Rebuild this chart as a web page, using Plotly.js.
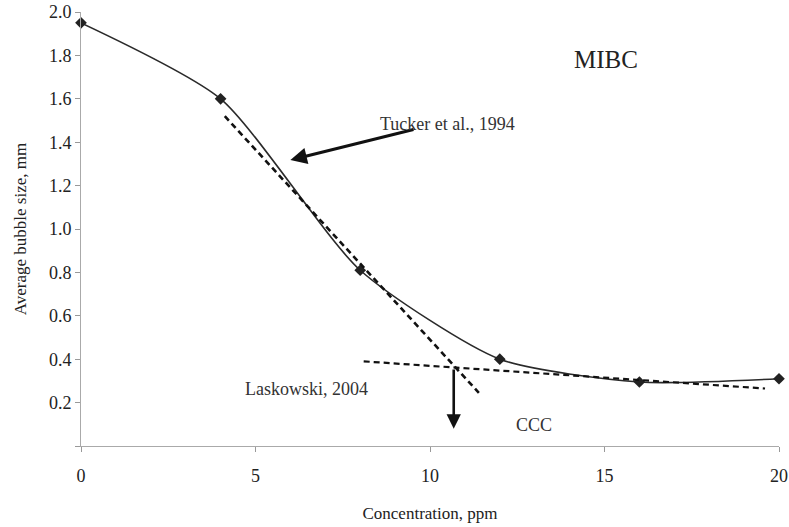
<!DOCTYPE html>
<html>
<head>
<meta charset="utf-8">
<script src="https://cdn.plot.ly/plotly-3.0.1.min.js"></script>
<style>html,body{margin:0;padding:0;background:#fff;}#chart{width:789px;height:527px;}</style>
</head>
<body>
<div id="chart"></div>
<script>
// Measured data
const concentration = [0, 4, 8, 12, 16, 20];
const bubbleSize = [1.95, 1.60, 0.81, 0.40, 0.295, 0.31];

// Tangent (dashed) lines
const steepX = [4.12, 11.4];
const steepY = [1.52, 0.245];
const flatX = [8.1, 19.6];
const flatY = [0.39, 0.265];

// Tick labels
const xTicks = [0, 5, 10, 15, 20];
const yTickVals = [0, 0.2, 0.4, 0.6, 0.8, 1.0, 1.2, 1.4, 1.6, 1.8, 2.0];
const yTickText = ['', '0.2', '0.4', '0.6', '0.8', '1.0', '1.2', '1.4', '1.6', '1.8', '2.0'];

const serif = 'Liberation Serif, Times New Roman, serif';

const traces = [
  {
    x: concentration, y: bubbleSize, mode: 'lines+markers', type: 'scatter',
    line: {shape: 'spline', smoothing: 0.65, color: '#2a2a2a', width: 1.6},
    marker: {symbol: 'diamond', size: 9, color: '#222'},
    cliponaxis: false, showlegend: false
  },
  {
    x: steepX, y: steepY, mode: 'lines', type: 'scatter',
    line: {color: '#111', width: 2.6, dash: '6px,4px'},
    showlegend: false
  },
  {
    x: flatX, y: flatY, mode: 'lines', type: 'scatter',
    line: {color: '#111', width: 2.2, dash: '6px,4px'},
    showlegend: false
  }
];

const layout = {
  width: 789, height: 527,
  margin: {l: 81, r: 10, t: 12, b: 81},
  paper_bgcolor: '#fff', plot_bgcolor: '#fff',
  font: {family: serif, size: 18, color: '#222'},
  xaxis: {
    range: [0, 20], tickvals: xTicks, showgrid: false, zeroline: false,
    showline: true, linecolor: '#aaa', linewidth: 1,
    ticks: 'outside', ticklen: 5, tickcolor: '#999',
    ticklabeloverflow: 'allow', ticklabelstandoff: 8,
    tickfont: {family: serif, size: 18, color: '#222'},
    title: {text: 'Concentration, ppm', font: {family: serif, size: 17, color: '#222'}, standoff: 22}
  },
  yaxis: {
    range: [0, 2.0], tickvals: yTickVals, ticktext: yTickText, showgrid: false, zeroline: false,
    showline: true, linecolor: '#aaa', linewidth: 1,
    ticks: 'outside', ticklen: 5, tickcolor: '#999',
    tickfont: {family: serif, size: 18, color: '#222'},
    title: {text: 'Average bubble size, mm', font: {family: serif, size: 17, color: '#222'}, standoff: 17}
  },
  annotations: [
    {x: 6.0, y: 1.318, ax: 9.57, ay: 1.46, xref: 'x', yref: 'y', axref: 'x', ayref: 'y',
     showarrow: true, arrowhead: 2, arrowsize: 1.1, arrowwidth: 3, arrowcolor: '#111', text: ''},
    {x: 10.68, y: 0.08, ax: 10.68, ay: 0.36, xref: 'x', yref: 'y', axref: 'x', ayref: 'y',
     showarrow: true, arrowhead: 2, arrowsize: 1.1, arrowwidth: 2.6, arrowcolor: '#111', text: ''},
    {x: 10.5, y: 1.485, xref: 'x', yref: 'y', showarrow: false, text: 'Tucker et al., 1994',
     font: {family: serif, size: 18, color: '#333'}},
    {x: 6.47, y: 0.262, xref: 'x', yref: 'y', showarrow: false, text: 'Laskowski, 2004',
     font: {family: serif, size: 18, color: '#333'}},
    {x: 12.98, y: 0.096, xref: 'x', yref: 'y', showarrow: false, text: 'CCC',
     font: {family: serif, size: 18, color: '#333'}},
    {x: 15.03, y: 1.78, xref: 'x', yref: 'y', showarrow: false, text: 'MIBC',
     font: {family: serif, size: 25, color: '#222'}}
  ]
};

Plotly.newPlot('chart', traces, layout, {displayModeBar: false, staticPlot: true});
</script>
</body>
</html>
